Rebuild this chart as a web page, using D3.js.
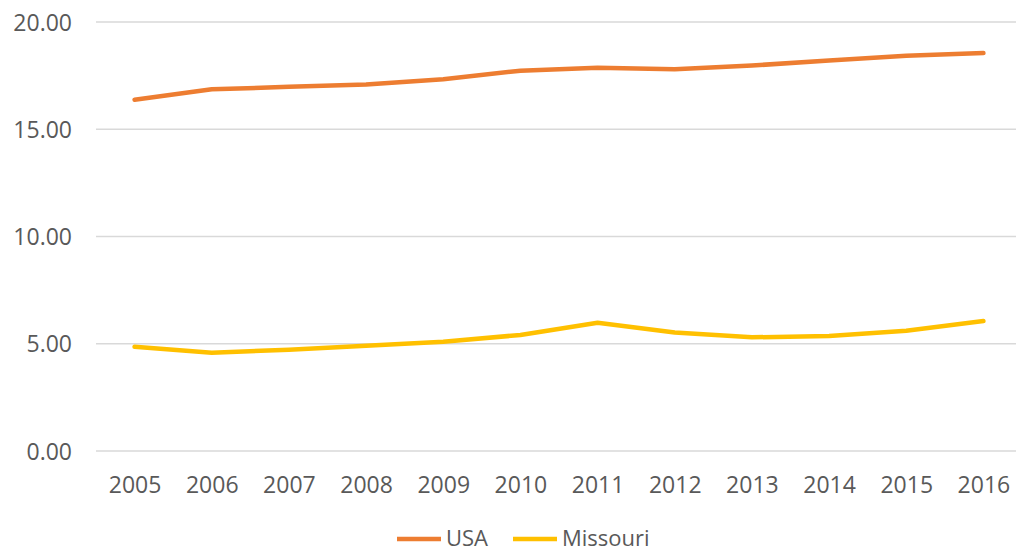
<!DOCTYPE html>
<html>
<head>
<meta charset="utf-8">
<script src="https://cdn.jsdelivr.net/npm/d3@7"></script>
<style>
  html, body { margin: 0; padding: 0; background: #fff; }
  svg { display: block; }
  text { font-family: "Open Sans", "Liberation Sans", sans-serif; fill: #595959; }
</style>
</head>
<body>
<svg id="chart" width="1016" height="552"></svg>
<script>
// Years on the horizontal axis
const years = ["2005","2006","2007","2008","2009","2010","2011","2012","2013","2014","2015","2016"];
// Rates per series
const usaValues      = [16.38, 16.86, 16.98, 17.09, 17.33, 17.73, 17.87, 17.80, 17.97, 18.21, 18.43, 18.55];
const missouriValues = [4.86, 4.58, 4.72, 4.91, 5.09, 5.41, 5.98, 5.52, 5.30, 5.36, 5.61, 6.06];
// Vertical axis ticks
const yTicks = [0, 5, 10, 15, 20];

const seriesNames  = ["USA", "Missouri"];
const seriesColors = ["#ED7D31", "#FFC000"];

const svg = d3.select("#chart");

const x = d3.scalePoint().domain(years).range([96, 1022]).padding(0.5);
const y = d3.scaleLinear().domain([0, 20]).range([451, 22]);

// Horizontal gridlines
svg.append("g")
  .selectAll("line")
  .data(yTicks)
  .join("line")
  .attr("x1", 96).attr("x2", 1016)
  .attr("y1", d => y(d)).attr("y2", d => y(d))
  .attr("stroke", "#d9d9d9")
  .attr("stroke-width", 1.5);

// Y axis labels
const yAxis = d3.axisLeft(y).tickValues(yTicks).tickFormat(d3.format(".2f")).tickSize(0).tickPadding(0);
const gy = svg.append("g").attr("transform", "translate(72,0)").call(yAxis);
gy.select(".domain").remove();
gy.selectAll("text").attr("font-size", 23).attr("fill", "#595959")
  .style("font-family", "\"Open Sans\", sans-serif").attr("dy", "0.35em");

// X axis labels
const xAxis = d3.axisBottom(x).tickSize(0).tickPadding(0);
const gx = svg.append("g").attr("transform", "translate(0,477)").call(xAxis);
gx.select(".domain").remove();
gx.selectAll("text").attr("font-size", 23).attr("fill", "#595959")
  .style("font-family", "\"Open Sans\", sans-serif").attr("dy", "0.71em");

// Series lines
const line = d3.line().x((d, i) => x(years[i])).y(d => y(d));
[usaValues, missouriValues].forEach((vals, k) => {
  svg.append("path")
    .datum(vals)
    .attr("d", line)
    .attr("fill", "none")
    .attr("stroke", seriesColors[k])
    .attr("stroke-width", 4.5)
    .attr("stroke-linecap", "round")
    .attr("stroke-linejoin", "round");
});

// Legend
const legendItems = [
  { name: seriesNames[0], color: seriesColors[0], x: 397 },
  { name: seriesNames[1], color: seriesColors[1], x: 513 }
];
const lg = svg.append("g");
legendItems.forEach(it => {
  lg.append("line")
    .attr("x1", it.x).attr("x2", it.x + 44)
    .attr("y1", 539).attr("y2", 539)
    .attr("stroke", it.color).attr("stroke-width", 4.5);
  lg.append("text")
    .attr("x", it.x + 49).attr("y", 546)
    .attr("font-size", 22)
    .text(it.name);
});
</script>
</body>
</html>
